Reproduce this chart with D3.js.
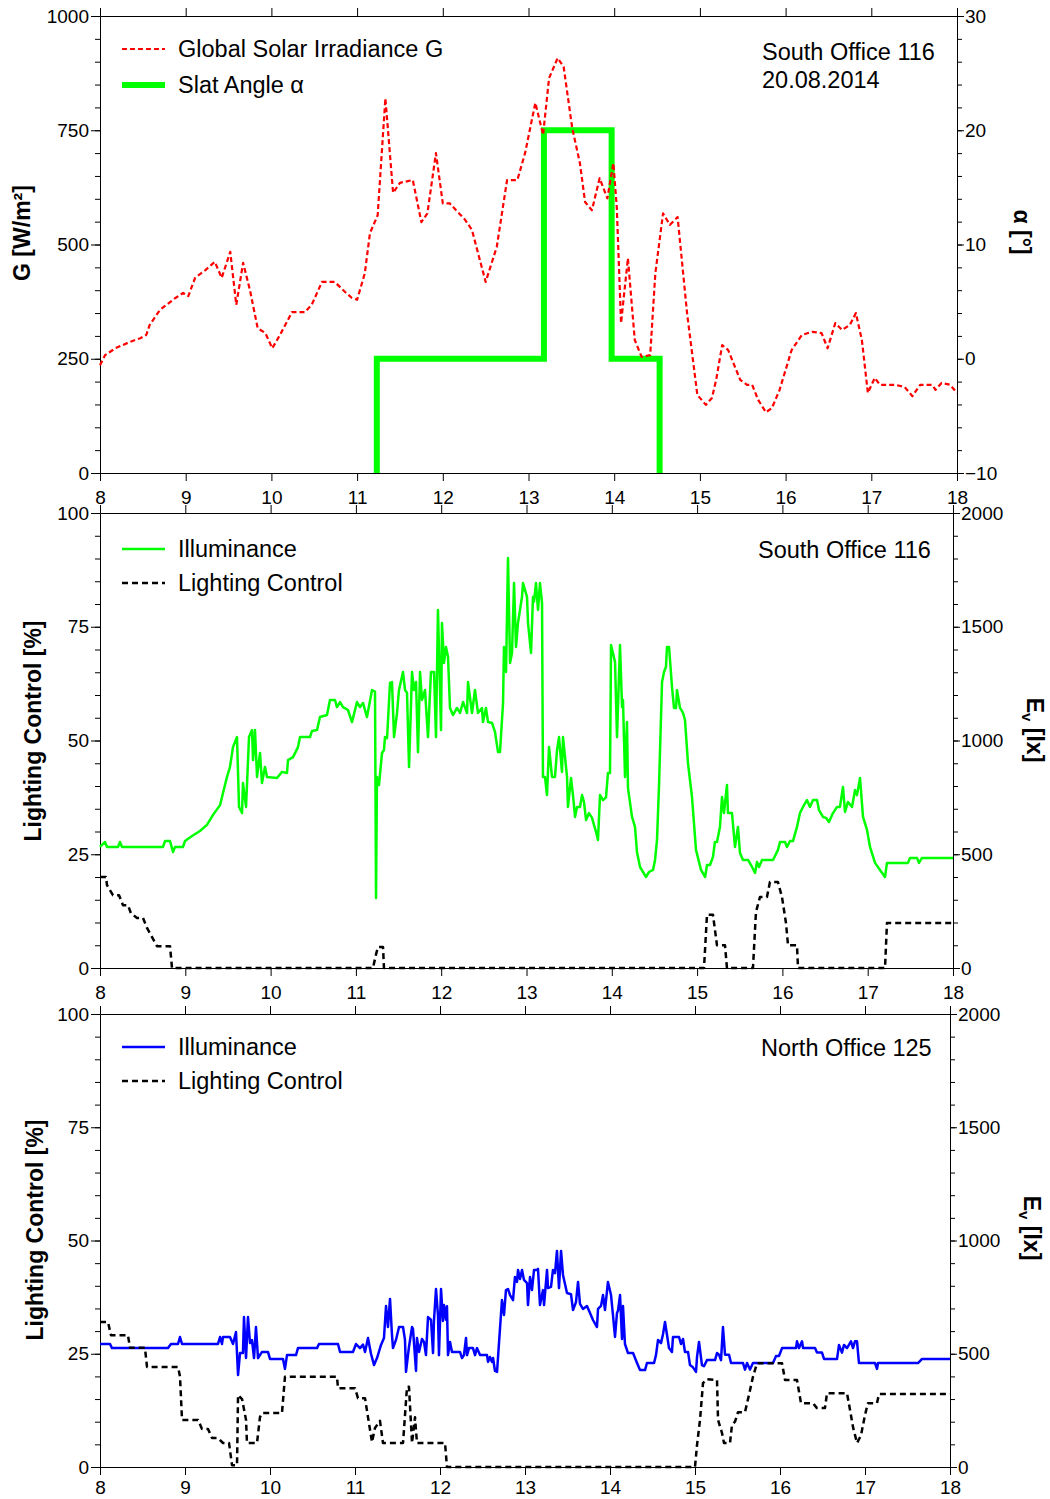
<!DOCTYPE html>
<html>
<head>
<meta charset="utf-8">
<script src="https://cdn.jsdelivr.net/npm/d3@7"></script>
<style>
body { margin: 0; background: #fff; }
text { font-family: "Liberation Sans", Arial, sans-serif; fill: #000; }
</style>
</head>
<body>
<div id="chart"></div>
<script>
// ---- data (hour of day, value) ----
var hours = [8, 9, 10, 11, 12, 13, 14, 15, 16, 17, 18];

// panel 1: global solar irradiance G [W/m2]
var solarIrradiance = [
  [8.00,236],[8.06,258],[8.18,273],[8.35,287],[8.47,295],[8.54,302],[8.58,324],[8.70,357],
  [8.88,383],[8.97,394],[9.03,387],[9.11,427],[9.23,444],[9.34,462],[9.42,427],[9.52,484],
  [9.59,368],[9.67,460],[9.75,400],[9.84,317],[9.93,306],[10.01,273],[10.10,302],[10.24,352],
  [10.39,352],[10.47,368],[10.59,418],[10.74,418],[10.86,396],[10.94,383],[11.00,379],[11.09,437],
  [11.15,525],[11.24,564],[11.33,820],[11.42,613],[11.50,635],[11.65,641],[11.75,549],[11.82,568],
  [11.92,700],[12.00,590],[12.08,590],[12.26,554],[12.34,532],[12.50,418],[12.63,495],[12.75,641],
  [12.87,641],[12.96,700],[13.08,810],[13.17,740],[13.24,864],[13.34,908],[13.41,889],[13.51,755],
  [13.60,678],[13.66,593],[13.74,575],[13.83,645],[13.92,601],[13.99,678],[14.03,582],[14.08,328],
  [14.16,470],[14.24,291],[14.32,254],[14.42,258],[14.48,437],[14.57,568],[14.65,543],[14.74,560],
  [14.85,350],[14.97,171],[15.07,149],[15.14,164],[15.19,204],[15.26,280],[15.33,269],[15.47,204],
  [15.55,193],[15.61,193],[15.68,160],[15.77,133],[15.84,142],[15.93,182],[16.07,269],[16.19,302],
  [16.31,309],[16.42,306],[16.49,273],[16.58,328],[16.66,313],[16.75,324],[16.82,350],[16.89,291],
  [16.96,175],[17.04,208],[17.10,193],[17.28,193],[17.39,188],[17.48,168],[17.57,193],[17.71,193],
  [17.75,182],[17.82,197],[17.92,193],[18.00,175]
];

// panel 1: slat angle alpha [deg], step changes
var slatTime  = [11.23, 11.23, 13.18, 13.97, 14.53];
var slatAngle = [-10, 0, 20, 0, -10];

// panel 2: South Office 116 illuminance Ev [lx]
var southIlluminance = [
  [8.000,532],[8.059,554],[8.082,532],[8.211,532],[8.234,554],[8.258,532],[8.739,532],[8.762,558],
  [8.821,558],[8.856,510],[8.879,532],[8.973,532],[8.996,558],[9.079,580],[9.172,602],[9.254,629],
  [9.325,673],[9.407,716],[9.442,769],[9.489,840],[9.524,884],[9.559,971],[9.606,1015],[9.630,708],
  [9.665,681],[9.676,813],[9.712,708],[9.747,1015],[9.782,1046],[9.794,914],[9.817,1046],[9.841,840],
  [9.876,945],[9.899,813],[9.934,884],[9.958,840],[10.075,835],[10.134,862],[10.192,857],[10.204,914],
  [10.263,927],[10.321,971],[10.345,1015],[10.462,1015],[10.485,1042],[10.544,1046],[10.579,1103],[10.661,1112],
  [10.696,1178],[10.755,1178],[10.778,1147],[10.814,1169],[10.849,1147],[10.907,1134],[10.954,1081],[11.013,1169],
  [11.048,1147],[11.083,1165],[11.130,1103],[11.189,1222],[11.224,1215],[11.236,308],[11.247,840],[11.271,804],
  [11.306,945],[11.329,958],[11.341,1015],[11.365,1010],[11.400,1253],[11.423,1257],[11.447,1015],[11.482,1121],
  [11.505,1222],[11.552,1301],[11.576,1222],[11.599,1210],[11.623,884],[11.658,1301],[11.681,1222],[11.705,1257],
  [11.728,949],[11.752,1301],[11.775,1178],[11.810,1222],[11.845,1015],[11.880,1301],[11.916,1301],[11.939,1015],
  [11.962,1574],[11.998,1046],[12.009,1516],[12.033,1341],[12.056,1411],[12.080,1367],[12.103,1143],[12.138,1112],
  [12.185,1143],[12.220,1121],[12.256,1169],[12.303,1121],[12.314,1257],[12.361,1121],[12.396,1222],[12.431,1121],
  [12.478,1143],[12.490,1081],[12.525,1143],[12.549,1081],[12.596,1077],[12.631,1037],[12.666,949],[12.689,949],
  [12.725,1165],[12.736,1411],[12.760,1301],[12.783,1802],[12.807,1341],[12.830,1385],[12.854,1692],[12.877,1411],
  [12.900,1516],[12.947,1631],[12.959,1692],[13.006,1631],[13.018,1516],[13.053,1385],[13.076,1631],[13.088,1610],
  [13.111,1692],[13.135,1574],[13.158,1692],[13.182,1604],[13.193,840],[13.217,840],[13.240,760],[13.264,971],
  [13.299,840],[13.334,840],[13.358,958],[13.381,1015],[13.416,862],[13.428,1015],[13.475,840],[13.486,708],
  [13.522,835],[13.545,760],[13.569,664],[13.592,708],[13.627,708],[13.651,760],[13.674,730],[13.698,650],
  [13.733,681],[13.768,660],[13.791,629],[13.815,598],[13.838,563],[13.862,760],[13.897,738],[13.932,750],
  [13.955,857],[13.979,857],[13.991,1420],[14.038,1345],[14.061,1015],[14.096,1420],[14.120,1147],[14.131,1178],
  [14.155,840],[14.178,1081],[14.190,791],[14.237,664],[14.272,620],[14.295,510],[14.331,444],[14.366,422],
  [14.401,400],[14.436,422],[14.483,431],[14.507,475],[14.530,563],[14.553,796],[14.589,1257],[14.612,1301],
  [14.635,1323],[14.647,1411],[14.671,1411],[14.706,1235],[14.729,1143],[14.753,1143],[14.764,1222],[14.800,1143],
  [14.835,1121],[14.858,1090],[14.893,901],[14.940,752],[14.987,519],[15.046,431],[15.094,400],[15.116,453],
  [15.151,453],[15.186,488],[15.209,554],[15.233,554],[15.268,620],[15.292,752],[15.315,681],[15.350,804],
  [15.362,681],[15.409,681],[15.444,532],[15.479,620],[15.503,505],[15.538,475],[15.597,475],[15.644,444],
  [15.679,418],[15.702,466],[15.726,444],[15.761,475],[15.890,475],[15.948,519],[15.972,554],[16.031,554],
  [16.054,532],[16.089,558],[16.124,558],[16.171,620],[16.206,681],[16.241,708],[16.288,738],[16.323,708],
  [16.359,738],[16.406,738],[16.429,694],[16.476,664],[16.511,660],[16.546,642],[16.593,681],[16.640,708],
  [16.675,708],[16.710,796],[16.734,686],[16.769,730],[16.816,708],[16.851,782],[16.874,760],[16.910,835],
  [16.945,664],[16.992,607],[17.027,532],[17.086,462],[17.144,431],[17.203,400],[17.226,462],[17.472,462],
  [17.496,484],[17.578,484],[17.601,462],[17.636,484],[18.000,484]
];

// panel 2: South Office 116 lighting control [%]
var southControl = [
  [8.000,20],[8.070,20],[8.082,18.2],[8.152,16],[8.223,16],[8.270,13.8],[8.328,13.8],[8.363,12],
  [8.434,11],[8.504,11],[8.551,8.8],[8.610,6.8],[8.668,4.8],[8.821,4.8],[8.844,0],[11.200,0],
  [11.236,3],[11.259,4.6],[11.318,4.6],[11.329,0],[15.081,0],[15.116,11.7],[15.186,11.7],[15.233,5],
  [15.327,5],[15.350,0],[15.655,0],[15.690,12.3],[15.737,15.6],[15.819,15.6],[15.854,18.9],[15.948,18.9],
  [15.995,15.6],[16.042,9.9],[16.066,5],[16.171,5],[16.183,0],[17.203,0],[17.226,9.9],[18.000,9.9]
];

// panel 3: North Office 125 illuminance Ev [lx]
var northIlluminance = [
  [8.000,543],[8.118,543],[8.141,525],[8.800,525],[8.835,543],[8.918,543],[8.941,574],[8.965,543],
  [9.388,543],[9.412,574],[9.435,543],[9.447,574],[9.529,574],[9.565,543],[9.600,596],[9.624,406],
  [9.647,503],[9.682,503],[9.694,662],[9.718,481],[9.741,662],[9.765,547],[9.788,560],[9.812,481],
  [9.835,618],[9.859,481],[9.906,508],[9.976,508],[10.000,477],[10.153,477],[10.176,433],[10.200,494],
  [10.306,494],[10.329,525],[10.553,525],[10.576,543],[10.800,543],[10.824,508],[10.976,508],[11.012,543],
  [11.059,525],[11.094,540],[11.118,508],[11.153,570],[11.188,500],[11.224,450],[11.259,481],[11.306,539],
  [11.341,570],[11.365,711],[11.388,618],[11.412,742],[11.435,583],[11.447,525],[11.482,561],[11.518,618],
  [11.565,618],[11.588,561],[11.600,420],[11.635,530],[11.671,618],[11.682,610],[11.718,424],[11.729,570],
  [11.753,508],[11.788,565],[11.812,552],[11.835,494],[11.859,662],[11.894,650],[11.918,503],[11.929,645],
  [11.953,786],[11.976,671],[11.988,494],[12.012,786],[12.035,645],[12.047,715],[12.071,650],[12.082,710],
  [12.094,494],[12.118,552],[12.141,508],[12.235,508],[12.259,481],[12.282,494],[12.306,570],[12.318,494],
  [12.341,525],[12.388,525],[12.412,494],[12.435,525],[12.471,494],[12.553,494],[12.565,464],[12.588,486],
  [12.612,464],[12.624,481],[12.647,424],[12.671,420],[12.694,547],[12.729,737],[12.753,671],[12.776,781],
  [12.800,786],[12.824,759],[12.859,737],[12.882,839],[12.906,817],[12.918,870],[12.941,830],[12.965,870],
  [12.988,826],[13.024,812],[13.035,715],[13.059,839],[13.082,781],[13.106,870],[13.141,870],[13.153,875],
  [13.176,715],[13.212,781],[13.224,715],[13.259,870],[13.271,790],[13.306,795],[13.329,870],[13.353,856],
  [13.376,954],[13.400,790],[13.424,954],[13.447,848],[13.494,768],[13.541,763],[13.565,693],[13.600,728],
  [13.624,817],[13.647,720],[13.682,698],[13.729,711],[13.765,680],[13.800,649],[13.847,618],[13.859,698],
  [13.894,711],[13.918,759],[13.941,693],[13.976,817],[14.012,759],[14.035,671],[14.059,574],[14.082,680],
  [14.094,690],[14.118,759],[14.141,565],[14.153,711],[14.176,543],[14.212,503],[14.271,503],[14.318,459],
  [14.353,428],[14.412,428],[14.435,459],[14.518,459],[14.541,494],[14.565,561],[14.600,547],[14.624,587],
  [14.647,640],[14.671,583],[14.694,525],[14.729,508],[14.741,574],[14.812,574],[14.835,543],[14.859,565],
  [14.882,508],[14.918,508],[14.941,450],[14.976,440],[15.012,420],[15.024,486],[15.047,552],[15.082,450],
  [15.106,445],[15.141,472],[15.235,472],[15.259,503],[15.282,496],[15.306,472],[15.329,618],[15.353,496],
  [15.400,496],[15.424,459],[15.565,459],[15.588,430],[15.612,459],[15.647,430],[15.682,459],[15.918,459],
  [15.953,490],[15.988,490],[16.024,525],[16.188,525],[16.200,555],[16.224,525],[16.259,555],[16.271,525],
  [16.412,525],[16.435,505],[16.494,505],[16.518,477],[16.671,477],[16.694,539],[16.729,505],[16.753,539],
  [16.788,525],[16.835,555],[16.859,525],[16.882,555],[16.906,555],[16.929,459],[17.118,459],[17.141,433],
  [17.153,459],[17.624,459],[17.671,477],[18.000,477]
];

// panel 3: North Office 125 lighting control [%]
var northControl = [
  [8.000,32],[8.094,32],[8.129,29.1],[8.329,29.1],[8.353,26.3],[8.529,26.3],[8.553,22.1],[8.918,22.1],
  [8.941,20],[8.965,10.4],[9.153,10.4],[9.200,8.4],[9.271,8.4],[9.318,6.4],[9.388,6.4],[9.447,5.3],
  [9.518,5.3],[9.553,0.4],[9.612,0.4],[9.624,15.9],[9.671,15],[9.718,10.4],[9.729,5.3],[9.847,5.3],
  [9.882,11],[9.906,11.9],[10.141,11.9],[10.176,19.9],[10.788,19.9],[10.800,17.4],[11.000,17.4],[11.035,15.2],
  [11.118,15.2],[11.153,11],[11.200,5.5],[11.235,8.6],[11.294,10.2],[11.329,5.3],[11.565,5.3],[11.612,17.7],
  [11.635,17.7],[11.671,5.3],[11.706,11],[11.729,5.3],[12.059,5.3],[12.082,0],[15.000,0],[15.024,4.9],
  [15.059,10.4],[15.094,18.5],[15.141,19.4],[15.259,19.2],[15.271,10.4],[15.318,7.5],[15.341,5.3],[15.412,5.3],
  [15.435,9.3],[15.471,10],[15.506,12.1],[15.588,12.1],[15.635,15.9],[15.682,19.9],[15.729,22.9],[16.024,22.9],
  [16.059,19.2],[16.200,19.2],[16.247,14.1],[16.388,14.1],[16.435,13],[16.529,13],[16.553,16.3],[16.788,16.3],
  [16.824,12.6],[16.859,8.8],[16.906,5.3],[16.953,7],[17.000,11.5],[17.035,14.1],[17.141,14.1],[17.165,16.1],
  [18.000,16.1]
];

// axis tick values
var gTicks = [0, 250, 500, 750, 1000];
var alphaTicks = [-10, 0, 10, 20, 30];
var pctTicks = [0, 25, 50, 75, 100];
var luxTicks = [0, 500, 1000, 1500, 2000];

var FONT = '"Liberation Sans", Arial, sans-serif';
var fmt = d3.format("d");

var svg = d3.select("#chart")
            .append("svg")
            .attr("width", 1050)
            .attr("height", 1499);

function minorTicks(dom, step) {
  return d3.range(dom[0], dom[1] + step / 2, step);
}

function styleAxis(g) {
  g.attr("font-size", 19).attr("font-family", FONT);
  g.selectAll("line").attr("stroke", "#000");
  g.selectAll("path").attr("stroke", "#000");
  g.selectAll("text").attr("fill", "#000");
}

// draws the frame of one panel and returns its scales
function drawFrame(p) {
  var x = d3.scaleLinear().domain([8, 18]).range([p.left, p.right]);
  var yl = d3.scaleLinear().domain(p.leftDomain).range([p.bottom, p.top]);
  var yr = d3.scaleLinear().domain(p.rightDomain).range([p.bottom, p.top]);

  // minor ticks first
  svg.append("g").attr("transform", "translate(" + p.left + ",0)")
     .call(d3.axisLeft(yl).tickValues(minorTicks(p.leftDomain, p.leftMinor)).tickSize(5).tickFormat("").tickSizeOuter(0))
     .call(styleAxis);
  svg.append("g").attr("transform", "translate(" + p.right + ",0)")
     .call(d3.axisRight(yr).tickValues(minorTicks(p.rightDomain, p.rightMinor)).tickSize(5).tickFormat("").tickSizeOuter(0))
     .call(styleAxis);

  svg.append("g").attr("transform", "translate(" + p.left + ",0)")
     .call(d3.axisLeft(yl).tickValues(p.leftTicks).tickSize(9).tickPadding(2).tickFormat(fmt).tickSizeOuter(0))
     .call(styleAxis);
  svg.append("g").attr("transform", "translate(" + p.right + ",0)")
     .call(d3.axisRight(yr).tickValues(p.rightTicks).tickSize(7).tickPadding(1).tickFormat(fmt).tickSizeOuter(0))
     .call(styleAxis);
  svg.append("g").attr("transform", "translate(0," + p.bottom + ")")
     .call(d3.axisBottom(x).tickValues(hours).tickSize(8).tickPadding(p.xPad).tickFormat(fmt).tickSizeOuter(0))
     .call(styleAxis);
  svg.append("g").attr("transform", "translate(0," + p.top + ")")
     .call(d3.axisTop(x).tickValues(hours).tickSize(8).tickFormat("").tickSizeOuter(0))
     .call(styleAxis);

  return {x: x, yl: yl, yr: yr};
}

function drawLine(data, x, y, color, width, dash) {
  var line = d3.line().x(function(d) { return x(d[0]); }).y(function(d) { return y(d[1]); });
  svg.append("path")
     .datum(data)
     .attr("d", line)
     .attr("fill", "none")
     .attr("stroke", color)
     .attr("stroke-width", width)
     .attr("stroke-linejoin", "round")
     .attr("stroke-dasharray", dash || null);
}

function legendRow(y, color, width, dash, label) {
  svg.append("line").attr("x1", 122).attr("x2", 165).attr("y1", y).attr("y2", y)
     .attr("stroke", color).attr("stroke-width", width).attr("stroke-dasharray", dash || null);
  svg.append("text").attr("x", 178).attr("y", y + 8).attr("font-size", 23.5).text(label);
}

function note(x, y, label) {
  svg.append("text").attr("x", x).attr("y", y).attr("font-size", 23.5).text(label);
}

function leftTitle(x, y, label) {
  svg.append("text")
     .attr("transform", "translate(" + x + "," + y + ") rotate(-90)")
     .attr("text-anchor", "middle").attr("font-size", 23).attr("font-weight", "bold")
     .text(label);
}

function evTitle(x, y) {
  var t = svg.append("text")
     .attr("transform", "translate(" + x + "," + y + ") rotate(90)")
     .attr("text-anchor", "middle").attr("font-size", 23).attr("font-weight", "bold");
  t.append("tspan").text("E");
  t.append("tspan").attr("font-size", 15).attr("dy", 5).text("v");
  t.append("tspan").attr("dy", -5).text(" [lx]");
}

// ---------- panel 1 ----------
var p1 = drawFrame({left: 100, right: 957, top: 16, bottom: 473, xPad: 10,
                    leftDomain: [0, 1000], leftTicks: gTicks, leftMinor: 50,
                    rightDomain: [-10, 30], rightTicks: alphaTicks, rightMinor: 2});
var slat = slatTime.map(function(t, i) { return [t, slatAngle[i]]; });
var stepLine = d3.line().curve(d3.curveStepAfter)
                 .x(function(d) { return p1.x(d[0]); }).y(function(d) { return p1.yr(d[1]); });
svg.append("path").datum(slat).attr("d", stepLine)
   .attr("fill", "none").attr("stroke", "#00ff00").attr("stroke-width", 6);
drawLine(solarIrradiance, p1.x, p1.yl, "#ff0000", 2.2, "5,3");

legendRow(49, "#ff0000", 2.2, "5,3", "Global Solar Irradiance G");
legendRow(85, "#00ff00", 6, null, "Slat Angle \u03b1");
note(762, 60, "South Office 116");
note(762, 88, "20.08.2014");
leftTitle(30, 233, "G [W/m\u00b2]");
svg.append("text")
   .attr("transform", "translate(1014,232) rotate(90)")
   .attr("text-anchor", "middle").attr("font-size", 23).attr("font-weight", "bold")
   .text("\u03b1 [\u00b0]");

// ---------- panel 2 ----------
var p2 = drawFrame({left: 100, right: 953, top: 513, bottom: 968, xPad: 10,
                    leftDomain: [0, 100], leftTicks: pctTicks, leftMinor: 5,
                    rightDomain: [0, 2000], rightTicks: luxTicks, rightMinor: 100});
drawLine(southIlluminance, p2.x, p2.yr, "#00ff00", 2.5);
drawLine(southControl, p2.x, p2.yl, "#000", 2.5, "6,4");
legendRow(549, "#00ff00", 2.5, null, "Illuminance");
legendRow(583, "#000", 2.5, "6,4", "Lighting Control");
note(758, 558, "South Office 116");
leftTitle(41, 731, "Lighting Control [%]");
evTitle(1027, 730);

// ---------- panel 3 ----------
var p3 = drawFrame({left: 100, right: 950, top: 1014, bottom: 1467, xPad: 6,
                    leftDomain: [0, 100], leftTicks: pctTicks, leftMinor: 5,
                    rightDomain: [0, 2000], rightTicks: luxTicks, rightMinor: 100});
drawLine(northIlluminance, p3.x, p3.yr, "#0000ff", 2.5);
drawLine(northControl, p3.x, p3.yl, "#000", 2.5, "6,4");
legendRow(1047, "#0000ff", 2.5, null, "Illuminance");
legendRow(1081, "#000", 2.5, "6,4", "Lighting Control");
note(761, 1056, "North Office 125");
leftTitle(43, 1230, "Lighting Control [%]");
evTitle(1024, 1228);
</script>
</body>
</html>
